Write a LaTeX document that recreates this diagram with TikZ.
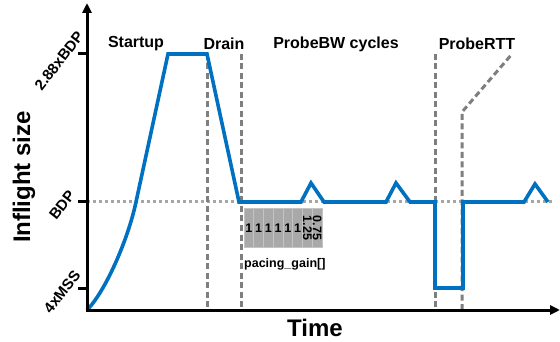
\documentclass[tikz,border=0pt]{standalone}
\usepackage{fontspec}
\setmainfont{Liberation Sans}
\usetikzlibrary{arrows.meta}
\definecolor{curveblue}{HTML}{0070C0}
\definecolor{dashgray}{HTML}{7F7F7F}
\definecolor{dotgray}{HTML}{A6A6A6}
\definecolor{cellgray}{HTML}{A9A9A9}
\definecolor{cellline}{HTML}{C4C4C4}
\begin{document}
\begin{tikzpicture}[x=1pt,y=-1pt,
  axis/.style={line width=3pt,-{Triangle[width=9pt,length=10pt]}},
  tickmark/.style={line width=3pt},
  curve/.style={draw=curveblue,line width=3.6pt,line join=miter},
  phase/.style={draw=dashgray,line width=3pt,dash pattern=on 6pt off 3.5pt},
  level/.style={draw=dotgray,line width=3pt,dash pattern=on 3pt off 3pt},
  ticklbl/.style={font=\fontsize{15}{15}\bfseries\selectfont,rotate=52,inner sep=0pt},
  phaselbl/.style={font=\fontsize{16}{16}\bfseries\selectfont,inner sep=0pt},
  axlbl/.style={font=\fontsize{24}{24}\bfseries\selectfont,inner sep=0pt},
  gaintxt/.style={font=\fontsize{12.5}{12.5}\bfseries\selectfont,inner sep=0pt},
  cell/.style={fill=cellgray,draw=cellline,line width=0.8pt}]
\useasboundingbox (0,0) rectangle (560,342);

% coordinates
\coordinate (O) at (87,310);
\coordinate (ytop) at (87,3);
\coordinate (xend) at (560,310);

% BDP level
\coordinate (l0) at (87,202);
\coordinate (l1) at (554,202);
\draw[level] (l0) -- (l1);

% phase boundaries
\coordinate (d1t) at (207,54);
\coordinate (d1b) at (207,310);
\coordinate (d2t) at (241,54);
\coordinate (d2b) at (241,310);
\coordinate (d3t) at (435,54);
\coordinate (d3b) at (435,310);
\coordinate (d4b) at (462,310);
\coordinate (d4k) at (462,112);
\coordinate (d4t) at (512,54);
\draw[phase] (d1t) -- (d1b);
\draw[phase] (d2t) -- (d2b);
\draw[phase] (d3t) -- (d3b);
\draw[phase] (d4b) -- (d4k) -- (d4t);

% pacing gain box
\foreach \i in {0,...,7} {
  \draw[cell] (244+9.75*\i,208) rectangle (244+9.75*\i+9.75,247);
}
\foreach \i in {0,...,5} {
  \node[gaintxt] (g\i) at (244+9.75*\i+4.875,228) {1};
}
\node[gaintxt,rotate=-90] (g6) at (307.4,228) {1.25};
\node[gaintxt,rotate=-90] (g7) at (317.1,228) {0.75};
\node[gaintxt,anchor=west] (pg) at (244,264) {pacing\_gain[]};

% inflight curve
\draw[curve] (O) .. controls (105,292) and (128,240) .. (136,202)
  -- (168,54) -- (207,54) -- (239,202) -- (301,202) -- (311,183) -- (324,202)
  -- (386,202) -- (396,183) -- (410,202) -- (435,202) -- (435,288)
  -- (463,288) -- (463,202) -- (524,202) -- (535,184) -- (548,202);

% axes
\draw[axis] (87,311.5) -- (ytop);
\draw[axis] (85.5,310) -- (xend);
\draw[tickmark] (78,54) -- (87,54);
\draw[tickmark] (78,202) -- (87,202);
\draw[tickmark] (78,288) -- (87,288);

% tick labels
\node[ticklbl] (t1) at (59,61) {2.88xBDP};
\node[ticklbl] (t2) at (62,205) {BDP};
\node[ticklbl] (t3) at (62,292) {4xMSS};

% phase labels
\node[phaselbl] (s1) at (136,44) {Startup};
\node[phaselbl] (s2) at (224,44) {Drain};
\node[phaselbl] (s3) at (336,44) {ProbeBW cycles};
\node[phaselbl] (s4) at (477,44) {ProbeRTT};

% axis labels
\node[axlbl,rotate=90] (yl) at (24,177) {Inflight size};
\node[axlbl] (xl) at (315,328) {Time};
\end{tikzpicture}
\end{document}
